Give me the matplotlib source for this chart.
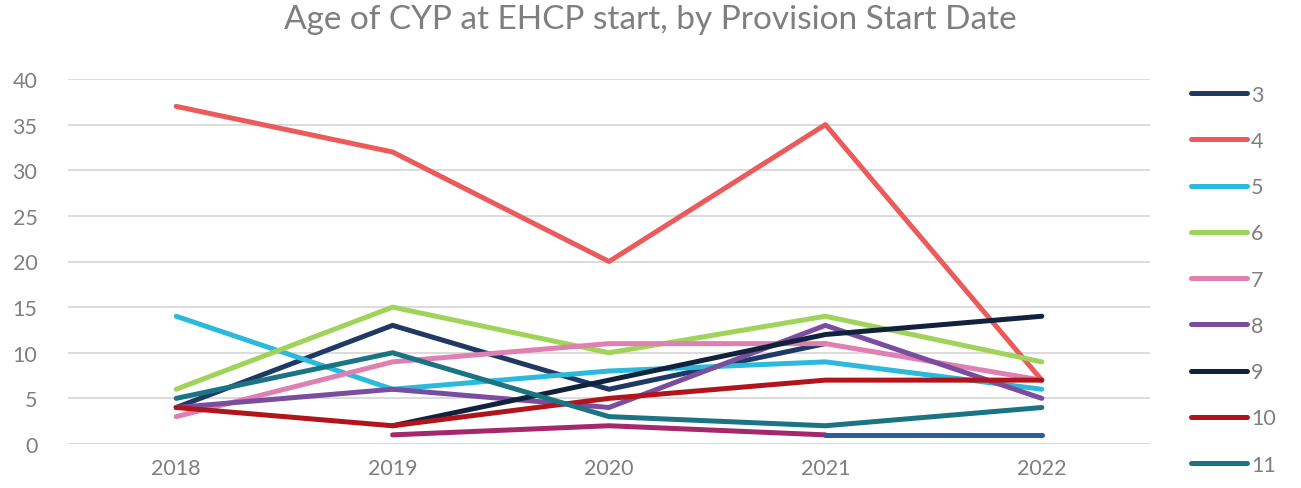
import numpy as np
import matplotlib.pyplot as plt
from matplotlib.lines import Line2D

plt.rcParams['font.family'] = ['Lato', 'DejaVu Sans']

years = ['2018', '2019', '2020', '2021', '2022']
nan = np.nan

# values per age group (blank where no data)
age_3 = [4, 13, 6, 11, nan]
age_4 = [37, 32, 20, 35, 7]
age_5 = [14, 6, 8, 9, 6]
age_6 = [6, 15, 10, 14, 9]
age_7 = [3, 9, 11, 11, 7]
age_8 = [4, 6, 4, 13, 5]
age_9 = [nan, 2, 7, 12, 14]
age_10 = [4, 2, 5, 7, 7]
age_11 = [5, 10, 3, 2, 4]
age_12 = [nan, 1, 2, 1, nan]
age_13 = [nan, nan, nan, 1, 1]

labels = ['3', '4', '5', '6', '7', '8', '9', '10', '11', '12', '13']
series = [age_3, age_4, age_5, age_6, age_7, age_8, age_9, age_10, age_11, age_12, age_13]
colors = ['#1e3a64', '#ec5b5b', '#2bbadb', '#9fd35a', '#e07fb1', '#7a4d9e',
          '#10223d', '#b1151b', '#1b7483', '#a5286c', '#2d5c9c']

fig = plt.figure(figsize=(13.01, 4.89), dpi=100)
ax = fig.add_axes([68 / 1301, 1 - 445 / 489, (1150 - 68) / 1301, (445 - 80) / 489])

x = np.arange(len(years))
for vals, c, lab in zip(series, colors, labels):
    ax.plot(x, vals, color=c, lw=3.6, solid_capstyle='round', solid_joinstyle='round', label=lab)

ax.set_xlim(-0.5, 4.5)
ax.set_ylim(0, 40)
ax.set_yticks(range(0, 41, 5))
ax.set_xticks(x)
ax.set_xticklabels(years)
ax.grid(axis='y', color='#d9d9d9', lw=1.3)
ax.set_axisbelow(True)
for s in ax.spines.values():
    s.set_visible(False)
ax.tick_params(length=0, labelsize=15.5, colors='#7f7f7f', pad=10)
ax.tick_params(axis='y', pad=22)

fig.suptitle('Age of CYP at EHCP start, by Provision Start Date', x=0.5, y=0.99,
             fontsize=24, color='#7f7f7f')

# legend is cut at the bottom in the original: only 3..11 visible
n_leg = 9
handles = [Line2D([0], [0], color=c, lw=3.6, solid_capstyle='round') for c in colors[:n_leg]]
fig.legend(handles, labels[:n_leg], loc='upper left', bbox_to_anchor=(1182 / 1301, 1 - 77 / 489),
           frameon=False, fontsize=15.5, labelcolor='#7f7f7f', handlelength=2.6,
           handletextpad=0.2, labelspacing=1.22, borderaxespad=0)

fig.savefig('out.png', dpi=100)
